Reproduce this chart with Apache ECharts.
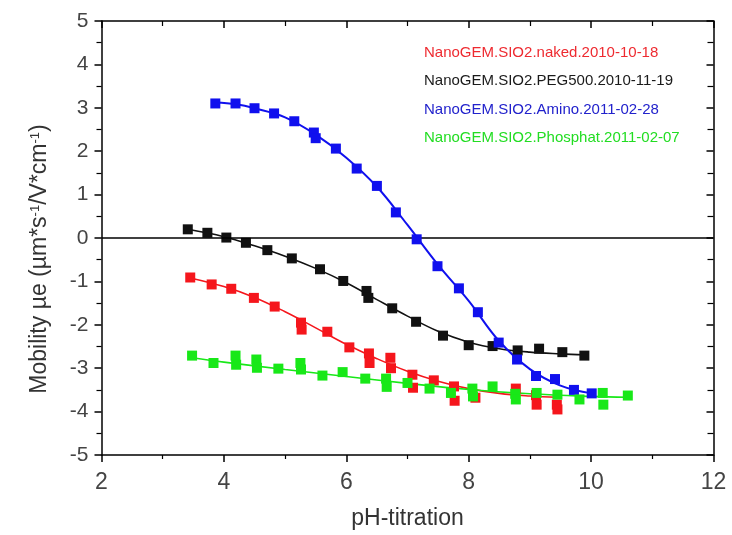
<!DOCTYPE html>
<html>
<head>
<meta charset="utf-8">
<script src="https://cdn.jsdelivr.net/npm/echarts@6/dist/echarts.min.js"></script>
<style>
  html, body { margin: 0; padding: 0; background: #ffffff; }
  #chart { width: 732px; height: 535px; }
</style>
</head>
<body>
<div id="chart"></div>
<script>
// Electrophoretic mobility of SiO2 nanoparticles during pH titration

const seriesNames = [
  'NanoGEM.SIO2.naked.2010-10-18',
  'NanoGEM.SIO2.PEG500.2010-11-19',
  'NanoGEM.SIO2.Amino.2011-02-28',
  'NanoGEM.SIO2.Phosphat.2011-02-07'
];

// measured points: pH and mobility
const nakedPH  = [3.45, 3.80, 4.12, 4.49, 4.83, 5.26, 5.27, 5.69, 6.05, 6.37, 6.38, 6.72, 6.73, 7.08, 7.09, 7.43, 7.76, 7.77, 8.11, 8.77, 9.10, 9.11, 9.44, 9.45];
const nakedMob = [-0.91, -1.07, -1.17, -1.38, -1.58, -1.95, -2.11, -2.16, -2.52, -2.66, -2.88, -2.76, -3.00, -3.15, -3.45, -3.28, -3.42, -3.75, -3.68, -3.47, -3.62, -3.84, -3.84, -3.95];

const pegPH  = [3.41, 3.73, 4.04, 4.36, 4.71, 5.11, 5.57, 5.95, 6.33, 6.36, 6.75, 7.14, 7.58, 8.00, 8.39, 8.80, 9.15, 9.53, 9.89];
const pegMob = [0.20, 0.12, 0.01, -0.11, -0.28, -0.47, -0.72, -0.99, -1.22, -1.38, -1.62, -1.93, -2.25, -2.47, -2.49, -2.59, -2.55, -2.63, -2.71];

const aminoPH  = [3.86, 4.19, 4.50, 4.82, 5.15, 5.47, 5.50, 5.83, 6.17, 6.50, 6.81, 7.15, 7.49, 7.84, 8.15, 8.49, 8.79, 9.10, 9.41, 9.72, 10.01];
const aminoMob = [3.10, 3.10, 2.99, 2.87, 2.69, 2.43, 2.30, 2.06, 1.60, 1.20, 0.59, -0.03, -0.65, -1.16, -1.71, -2.41, -2.80, -3.18, -3.25, -3.50, -3.58];

const phosPH  = [3.48, 3.83, 4.19, 4.20, 4.53, 4.54, 4.89, 5.25, 5.26, 5.61, 5.94, 6.31, 6.65, 6.66, 7.00, 7.36, 7.71, 8.06, 8.07, 8.39, 8.76, 8.77, 9.11, 9.45, 9.81, 10.19, 10.20, 10.60];
const phosMob = [-2.71, -2.88, -2.71, -2.92, -2.80, -2.99, -3.01, -2.88, -3.03, -3.17, -3.09, -3.24, -3.24, -3.43, -3.34, -3.47, -3.57, -3.47, -3.65, -3.42, -3.59, -3.72, -3.57, -3.61, -3.72, -3.57, -3.84, -3.63];

// fitted curves
const nakedFitPH  = [3.45, 4.0, 4.5, 5.0, 5.5, 6.0, 6.5, 7.0, 7.5, 8.0, 8.5, 9.0, 9.45];
const nakedFitMob = [-0.92, -1.12, -1.37, -1.70, -2.07, -2.45, -2.78, -3.07, -3.30, -3.47, -3.58, -3.64, -3.67];

const pegFitPH  = [3.41, 4.0, 4.5, 5.0, 5.5, 6.0, 6.5, 7.0, 7.5, 8.0, 8.5, 9.0, 9.5, 9.89];
const pegFitMob = [0.20, 0.03, -0.18, -0.42, -0.70, -1.03, -1.42, -1.80, -2.15, -2.40, -2.55, -2.63, -2.67, -2.69];

const aminoFitPH  = [3.86, 4.2, 4.5, 5.0, 5.5, 6.0, 6.5, 7.0, 7.5, 8.0, 8.5, 9.0, 9.5, 10.01];
const aminoFitMob = [3.12, 3.08, 2.99, 2.78, 2.38, 1.85, 1.18, 0.30, -0.62, -1.45, -2.38, -3.02, -3.40, -3.58];

const phosFitPH  = [3.48, 4.0, 5.0, 6.0, 7.0, 8.0, 9.0, 10.0, 10.6];
const phosFitMob = [-2.76, -2.86, -3.03, -3.19, -3.35, -3.49, -3.59, -3.65, -3.67];

const xTicks = [2, 4, 6, 8, 10, 12];
const yTicks = [-5, -4, -3, -2, -1, 0, 1, 2, 3, 4, 5];

const colors = ['#f5161c', '#111111', '#1010ee', '#18e818'];
const legendColors = ['#ee2a30', '#1a1a1a', '#2222cc', '#22dd22'];

const zip = (xs, ys) => xs.map((x, i) => [x, ys[i]]);

const pointSets = [zip(nakedPH, nakedMob), zip(pegPH, pegMob), zip(aminoPH, aminoMob), zip(phosPH, phosMob)];
const fitSets = [zip(nakedFitPH, nakedFitMob), zip(pegFitPH, pegFitMob), zip(aminoFitPH, aminoFitMob), zip(phosFitPH, phosFitMob)];

const fontFam = '"Liberation Sans", Arial, sans-serif';

const series = [];
fitSets.forEach((d, i) => {
  series.push({
    name: seriesNames[i] + ' fit',
    type: 'line',
    data: d,
    smooth: 0.4,
    showSymbol: false,
    silent: true,
    z: 2,
    lineStyle: { color: colors[i], width: i === 2 ? 2 : 1.6 }
  });
});
// drawing order of markers: black, red, blue, green on top
[1, 0, 2, 3].forEach((i, k) => {
  series.push({
    name: seriesNames[i],
    type: 'scatter',
    data: pointSets[i],
    symbol: 'rect',
    symbolSize: 10,
    z: 3 + k,
    itemStyle: { color: colors[i], opacity: 1 }
  });
});
// zero reference line
series.push({
  type: 'line',
  data: [],
  silent: true,
  markLine: {
    silent: true,
    symbol: 'none',
    label: { show: false },
    lineStyle: { color: '#000', width: 1.5, type: 'solid' },
    data: [{ yAxis: 0 }]
  }
});

const xMin = xTicks[0], xMax = xTicks[xTicks.length - 1];
const yMin = yTicks[0], yMax = yTicks[yTicks.length - 1];

const axisLine = { show: true, onZero: false, lineStyle: { color: '#000', width: 1.5 } };

const chart = echarts.init(document.getElementById('chart'), null, { renderer: 'canvas' });
chart.setOption({
  backgroundColor: '#ffffff',
  animation: false,
  grid: { left: 101.5, right: 18.5, top: 21, bottom: 80, containLabel: false },
  legend: {
    orient: 'vertical',
    left: 414,
    top: 40,
    icon: 'none',
    itemWidth: 0,
    itemHeight: 16,
    itemGap: 12.3,
    selectedMode: false,
    data: seriesNames.map((n, i) => ({ name: n, textStyle: { color: legendColors[i] } })),
    textStyle: { fontFamily: fontFam, fontSize: 15, lineHeight: 16 }
  },
  xAxis: [{
    type: 'value', position: 'bottom', min: xMin, max: xMax, interval: 2,
    name: 'pH-titration', nameLocation: 'middle', nameGap: 52,
    nameTextStyle: { fontFamily: fontFam, fontSize: 23, color: '#333' },
    axisLine,
    axisTick: { show: true, inside: false, length: 7, lineStyle: { color: '#000', width: 1.5 } },
    minorTick: { show: true, splitNumber: 2, length: 4, lineStyle: { color: '#000', width: 1.2 } },
    axisLabel: { fontFamily: fontFam, fontSize: 23, color: '#444', margin: 16 },
    splitLine: { show: false }
  }, {
    type: 'value', position: 'top', min: xMin, max: xMax, interval: 2,
    axisLine,
    axisTick: { show: true, inside: true, length: 7, lineStyle: { color: '#000', width: 1.5 } },
    minorTick: { show: true, splitNumber: 2, length: 5, lineStyle: { color: '#000', width: 1.2 } },
    axisLabel: { show: false },
    splitLine: { show: false }
  }],
  yAxis: [{
    type: 'value', position: 'left', min: yMin, max: yMax, interval: 1,
    axisLine,
    axisTick: { show: true, inside: false, length: 7, lineStyle: { color: '#000', width: 1.5 } },
    minorTick: { show: true, splitNumber: 2, length: 5, lineStyle: { color: '#000', width: 1.2 } },
    axisLabel: { fontFamily: fontFam, fontSize: 21, color: '#444', margin: 13 },
    splitLine: { show: false }
  }, {
    type: 'value', position: 'right', min: yMin, max: yMax, interval: 1,
    axisLine,
    axisTick: { show: true, inside: true, length: 7, lineStyle: { color: '#000', width: 1.5 } },
    minorTick: { show: true, splitNumber: 2, length: 6, lineStyle: { color: '#000', width: 1.2 } },
    axisLabel: { show: false },
    splitLine: { show: false }
  }],
  graphic: [{
    type: 'text',
    x: 40,
    y: 259,
    rotation: Math.PI / 2,
    style: {
      text: '{a|Mobility µe (µm*s}{s|-1}{a|/V*cm}{s|-1}{a|)}',
      align: 'center',
      verticalAlign: 'middle',
      rich: {
        a: { fontFamily: fontFam, fontSize: 23, fill: '#333', color: '#333' },
        s: { fontFamily: fontFam, fontSize: 13, fill: '#333', color: '#333', verticalAlign: 'top', padding: [0, 0, 9, 0] }
      }
    }
  }],
  series
});
</script>
</body>
</html>
